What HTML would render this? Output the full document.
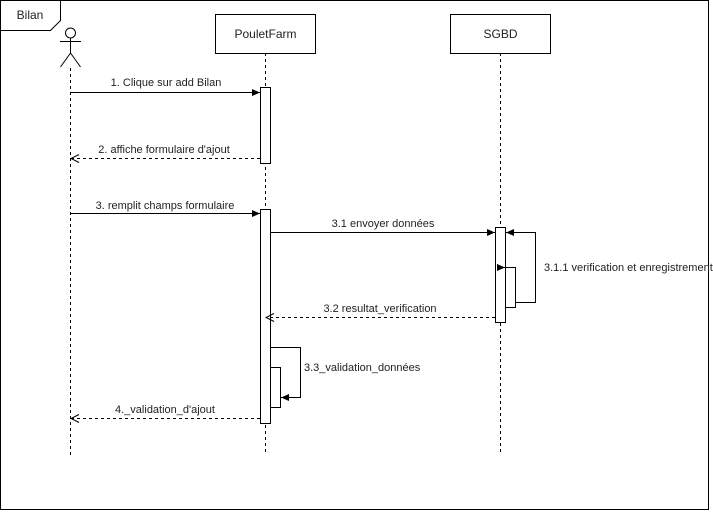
<!DOCTYPE html>
<html><head><meta charset="utf-8"><style>
html,body{margin:0;padding:0;background:#fff}
svg text{font-family:"Liberation Sans",Arial,sans-serif;font-size:11px;fill:#222}
</style></head><body>
<svg width="713" height="511" xmlns="http://www.w3.org/2000/svg">
<defs>
<marker id="f" markerWidth="10" markerHeight="10" refX="9" refY="5" orient="auto" markerUnits="userSpaceOnUse"><path d="M1,1.5 L9,5 L1,8.5 Z" fill="#000"/></marker>
<marker id="o" markerWidth="10" markerHeight="10" refX="9" refY="5" orient="auto" markerUnits="userSpaceOnUse"><path d="M1,1 L9,5 L1,9" fill="none" stroke="#000"/></marker>
</defs>
<rect x="0.5" y="0.5" width="708" height="509" fill="none" stroke="#000"/>
<path d="M0.5,30.5 H50.5 L60.5,20.5 V0.5" fill="none" stroke="#000"/>
<text x="30" y="19" text-anchor="middle" font-size="12" style="font-size:12px">Bilan</text>
<!-- actor -->
<g stroke="#000" fill="none">
<circle cx="70.5" cy="33" r="5" fill="#fff"/>
<line x1="70.5" y1="38" x2="70.5" y2="53"/>
<line x1="60" y1="41.5" x2="81" y2="41.5"/>
<line x1="70.5" y1="53" x2="60.5" y2="67"/>
<line x1="70.5" y1="53" x2="80.5" y2="67"/>
</g>
<g stroke="#000" stroke-dasharray="3,3">
<line x1="70.5" y1="68" x2="70.5" y2="455"/>
<line x1="265.5" y1="53" x2="265.5" y2="455"/>
<line x1="500.5" y1="53" x2="500.5" y2="455"/>
</g>
<rect x="215.5" y="14.5" width="100" height="39" fill="#fff" stroke="#000"/>
<text x="265.5" y="38" text-anchor="middle" style="font-size:12px">PouletFarm</text>
<rect x="450.5" y="14.5" width="100" height="39" fill="#fff" stroke="#000"/>
<text x="500.5" y="38" text-anchor="middle" style="font-size:12px">SGBD</text>
<!-- activations -->
<rect x="260.5" y="87.5" width="10" height="76" fill="#fff" stroke="#000"/>
<rect x="260.5" y="209.5" width="10" height="214" fill="#fff" stroke="#000"/>
<rect x="495.5" y="227.5" width="10" height="95" fill="#fff" stroke="#000"/>
<rect x="505.5" y="267.5" width="10" height="40" fill="#fff" stroke="#000"/>
<rect x="270.5" y="367.5" width="10" height="40" fill="#fff" stroke="#000"/>
<!-- messages -->
<g stroke="#000" fill="none">
<line x1="70.5" y1="92.5" x2="260" y2="92.5" marker-end="url(#f)"/>
<line x1="260" y1="158.5" x2="71" y2="158.5" stroke-dasharray="3,3" marker-end="url(#o)"/>
<line x1="70.5" y1="213.5" x2="260" y2="213.5" marker-end="url(#f)"/>
<line x1="270.5" y1="232.5" x2="495" y2="232.5" marker-end="url(#f)"/>
<polyline points="505.5,232.5 535.5,232.5 535.5,302.5 515.5,302.5"/>
<line x1="508" y1="232.5" x2="506" y2="232.5" marker-end="url(#f)"/>
<line x1="498" y1="267.5" x2="505" y2="267.5" marker-end="url(#f)"/>
<line x1="495" y1="317.5" x2="266" y2="317.5" stroke-dasharray="3,3" marker-end="url(#o)"/>
<polyline points="270.5,347.5 300.5,347.5 300.5,397.5 290,397.5"/>
<line x1="292" y1="397.5" x2="281" y2="397.5" marker-end="url(#f)"/>
<line x1="260" y1="418.5" x2="71" y2="418.5" stroke-dasharray="3,3" marker-end="url(#o)"/>
</g>
<text x="166" y="86" text-anchor="middle">1. Clique sur add Bilan</text>
<text x="164" y="153" text-anchor="middle">2. affiche formulaire d'ajout</text>
<text x="165" y="209" text-anchor="middle">3. remplit champs formulaire</text>
<text x="383" y="227" text-anchor="middle">3.1 envoyer données</text>
<text x="544" y="271">3.1.1 verification et enregistrement</text>
<text x="380" y="312" text-anchor="middle">3.2 resultat_verification</text>
<text x="304" y="371">3.3_validation_données</text>
<text x="165" y="413" text-anchor="middle">4._validation_d'ajout</text>
</svg>
</body></html>
